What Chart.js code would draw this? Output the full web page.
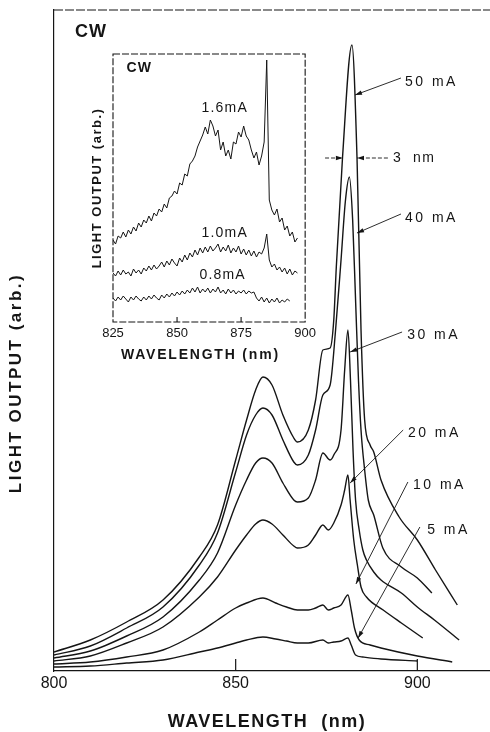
<!DOCTYPE html>
<html>
<head>
<meta charset="utf-8">
<script src="https://cdn.jsdelivr.net/npm/chart.js@4"></script>
<style>
  html, body { margin: 0; padding: 0; background: #fff; }
  #wrap { position: relative; width: 490px; height: 732px; overflow: hidden; }
  #mainChart { position: absolute; left: 0; top: 0; }
  #insetChart { position: absolute; left: 60px; top: 40px; }
</style>
</head>
<body>
<div id="wrap">
  <canvas id="mainChart" width="490" height="732"></canvas>
  <canvas id="insetChart" width="260" height="330"></canvas>
</div>
<script>
// main spectra, CW, wavelength (nm) vs light output (arb.)
const wl50 = [800, 810, 820, 830, 840, 845, 850, 853, 855.5, 857.5, 860, 863, 866, 867, 870, 872, 874, 876, 877, 877.7, 879.4, 882, 883.4, 884.5, 885.5, 887, 888, 890, 895, 900, 905, 911];
const out50 = [19, 31, 49, 71, 114, 146, 211, 251, 281, 294, 286, 256, 233, 229, 241, 271, 321, 323, 351, 404, 513, 626, 513, 341, 251, 226, 219, 191, 154, 131, 101, 66];

const wl40 = [800, 810, 820, 830, 840, 845, 850, 853, 855.5, 857.5, 860, 863, 866, 867, 870, 872, 874, 876, 877.5, 879, 880.2, 881.3, 882.2, 883, 883.8, 884.5, 885.5, 886.5, 888, 890.5, 895.6, 900, 904];
const out40 = [16, 25, 43, 64, 106, 138, 199, 236, 256, 263, 256, 231, 209, 206, 216, 241, 276, 286, 341, 411, 470, 494, 451, 371, 291, 241, 201, 171, 156, 123, 104, 93, 78];

const wl30 = [800, 810, 820, 830, 840, 845, 850, 853, 855.5, 857.5, 860, 863, 866, 867, 870, 872, 874, 876, 877, 879, 880, 880.9, 881.6, 882.3, 883, 884, 885, 886, 888, 890, 895.6, 900, 904.7, 911.5];
const out30 = [13, 20, 35, 54, 91, 118, 166, 191, 208, 213, 208, 188, 171, 169, 173, 191, 218, 211, 216, 241, 301, 341, 291, 221, 171, 141, 121, 111, 99, 91, 78, 64, 51, 31];

const wl20 = [800, 810, 820, 830, 840, 845, 850, 853, 855.5, 857.5, 860, 863, 866, 867, 870, 872, 874, 875.5, 877, 879, 880, 880.9, 881.5, 882.5, 883.5, 884.5, 886, 890.6, 895.6, 901.5];
const out20 = [10, 15, 28, 44, 74, 94, 121, 136, 147, 151, 147, 136, 125, 123, 126, 136, 146, 141, 148, 166, 181, 196, 171, 131, 106, 84, 74, 61, 48, 33];

const wl10 = [800, 810, 820, 830, 840, 845, 850, 853, 857.5, 861, 864, 867, 870, 872, 874, 875.5, 877, 879, 880.9, 881.8, 882.7, 884, 887, 890, 900, 909.6];
const out10 = [7, 9, 14, 21, 39, 51, 63, 68, 73, 68, 64, 61, 61, 63, 66, 61, 63, 66, 76, 61, 43, 31, 26, 23, 15, 9];

const wl05 = [800, 810, 820, 830, 840, 845, 850, 853, 857.5, 861, 864, 867, 870, 874, 875.5, 877, 879, 880.9, 881.8, 883, 885, 890, 900];
const out05 = [4, 5, 8, 11, 19, 23, 28, 31, 34, 32, 30, 28, 28, 31, 28, 29, 30, 33, 26, 16, 14, 12, 10];

const xTicks = [800, 850, 900];

// inset, low currents
const wlInset = [825, 826, 827, 828, 829, 830, 831, 832, 833, 834,
  835, 836, 837, 838, 839, 840, 841, 842, 843, 844,
  845, 846, 847, 848, 849, 850, 851, 852, 853, 854,
  855, 856, 857, 858, 859, 860, 861, 862, 863, 864,
  865, 866, 867, 868, 869, 870, 871, 872, 873, 874,
  875, 876, 877, 878, 879, 880, 881, 882, 883, 884,
  885, 886, 887, 888, 889, 890, 891, 892, 893, 894,
  895, 896, 897];
const out16 = [82, 78, 86, 84, 90, 85, 92, 88, 95, 91,
  99, 95, 102, 99, 106, 101, 109, 106, 113, 110,
  118, 114, 124, 126, 131, 128, 139, 137, 148, 146,
  158, 161, 166, 175, 181, 187, 195, 188, 202, 196,
  186, 192, 172, 180, 166, 172, 163, 180, 178, 190,
  185, 196, 186, 182, 172, 164, 170, 157, 166, 180,
  262, 122, 112, 107, 113, 100, 104, 92, 96, 86,
  90, 80, 84];
const out10i = [49, 46, 51, 47, 52, 48, 50, 46, 53, 49,
  52, 48, 54, 51, 56, 52, 57, 53, 56, 60,
  55, 61, 57, 63, 59, 56, 64, 60, 67, 62,
  69, 65, 72, 67, 74, 69, 75, 70, 76, 71,
  74, 78, 70, 75, 71, 77, 69, 74, 70, 76,
  68, 73, 67, 72, 66, 71, 65, 70, 68, 74,
  88, 62, 55, 58, 52, 55, 50, 54, 48, 53,
  47, 51, 49];
const out08 = [24, 21, 25, 22, 26, 23, 20, 25, 22, 26,
  23, 21, 25, 22, 26, 23, 27, 24, 22, 27,
  24, 28, 25, 29, 26, 30, 27, 31, 28, 32,
  29, 34, 30, 35, 29, 33, 30, 34, 29, 33,
  30, 35, 29, 32, 28, 33, 29, 32, 28, 31,
  29, 32, 28, 31, 29, 30, 24, 21, 25, 20,
  24, 19, 23, 20, 24, 19, 22, 20, 23, 21];
const insetTicks = [825, 850, 875, 900];

const INK = '#151515';
const FONT = "'Liberation Sans', Arial, Helvetica, sans-serif";

function toPoints(wl, out) {
  return wl.map((x, i) => ({ x: x, y: out[i] })).filter(p => p.y !== undefined);
}

function text(ctx, str, x, y, size, bold, align, spacing, rotate) {
  ctx.save();
  ctx.fillStyle = INK;
  ctx.font = (bold ? 'bold ' : '') + size + 'px ' + FONT;
  ctx.letterSpacing = (spacing || 0) + 'px';
  ctx.textAlign = align || 'left';
  ctx.textBaseline = 'middle';
  ctx.translate(x, y);
  if (rotate) ctx.rotate(-Math.PI / 2);
  ctx.fillText(str, 0, 0);
  ctx.restore();
}

function arrow(ctx, x1, y1, x2, y2, dash) {
  ctx.save();
  ctx.strokeStyle = INK;
  ctx.fillStyle = INK;
  ctx.lineWidth = 0.9;
  if (dash) ctx.setLineDash(dash);
  ctx.beginPath();
  ctx.moveTo(x1, y1);
  ctx.lineTo(x2, y2);
  ctx.stroke();
  const a = Math.atan2(y2 - y1, x2 - x1);
  ctx.setLineDash([]);
  ctx.beginPath();
  ctx.moveTo(x2, y2);
  ctx.lineTo(x2 - 7 * Math.cos(a) + 2.2 * Math.sin(a), y2 - 7 * Math.sin(a) - 2.2 * Math.cos(a));
  ctx.lineTo(x2 - 7 * Math.cos(a) - 2.2 * Math.sin(a), y2 - 7 * Math.sin(a) + 2.2 * Math.cos(a));
  ctx.closePath();
  ctx.fill();
  ctx.restore();
}

// current labels with leader arrows, in data coordinates
const callouts = [
  { label: '50 mA', at: [896.6, 589], from: [895.5, 593], to: [882.85, 576] },
  { label: '40 mA', at: [896.6, 453], from: [895.5, 457], to: [883.4, 438] },
  { label: '30 mA', at: [897.2, 336], from: [895.8, 339], to: [881.5, 319] },
  { label: '20 mA', at: [897.4, 238], from: [896.1, 241], to: [881.5, 188] },
  { label: '10 mA', at: [898.8, 186], from: [897.4, 189], to: [883.1, 87] },
  { label: '5 mA', at: [902.7, 141], from: [900.7, 144], to: [883.7, 33] }
];

const mainDecor = {
  id: 'mainDecor',
  afterDraw(chart) {
    const { ctx, chartArea: area, scales: { x, y } } = chart;
    ctx.save();
    ctx.strokeStyle = INK;
    ctx.lineWidth = 1.2;
    ctx.setLineDash([9, 2]);
    ctx.beginPath();
    ctx.moveTo(area.left, area.top);
    ctx.lineTo(area.right, area.top);
    ctx.stroke();
    ctx.setLineDash([]);
    // inward ticks
    [850, 900].forEach(v => {
      const px = x.getPixelForValue(v);
      ctx.beginPath();
      ctx.moveTo(px, area.bottom);
      ctx.lineTo(px, area.bottom - 12);
      ctx.stroke();
    });
    ctx.restore();

    text(ctx, 'CW', x.getPixelForValue(805.8), y.getPixelForValue(639), 18, true, 'left', 1);
    text(ctx, 'WAVELENGTH  (nm)', 267, area.bottom + 51, 18, true, 'center', 1.5);
    text(ctx, 'LIGHT OUTPUT (arb.)', 16, 383, 17, true, 'center', 2.5, true);

    callouts.forEach(c => {
      arrow(ctx, x.getPixelForValue(c.from[0]), y.getPixelForValue(c.from[1]),
        x.getPixelForValue(c.to[0]), y.getPixelForValue(c.to[1]));
      text(ctx, c.label, x.getPixelForValue(c.at[0]), y.getPixelForValue(c.at[1]), 14, false, 'left', 2.5);
    });

    // 3 nm width marker
    const my = y.getPixelForValue(513);
    arrow(ctx, x.getPixelForValue(874.6), my, x.getPixelForValue(879.5), my, [4, 2]);
    arrow(ctx, x.getPixelForValue(891.9), my, x.getPixelForValue(883.4), my, [4, 2]);
    text(ctx, '3  nm', x.getPixelForValue(893.3), my, 14, false, 'left', 1.5);
  }
};

const mainSeries = [
  { label: '50 mA', wl: wl50, out: out50 },
  { label: '40 mA', wl: wl40, out: out40 },
  { label: '30 mA', wl: wl30, out: out30 },
  { label: '20 mA', wl: wl20, out: out20 },
  { label: '10 mA', wl: wl10, out: out10 },
  { label: '5 mA', wl: wl05, out: out05 }
];

new Chart(document.getElementById('mainChart'), {
  type: 'line',
  data: {
    datasets: mainSeries.map(s => ({
      label: s.label,
      data: toPoints(s.wl, s.out),
      borderColor: INK,
      borderWidth: 1.4,
      pointRadius: 0,
      cubicInterpolationMode: 'monotone',
      fill: false
    }))
  },
  options: {
    responsive: false,
    animation: false,
    events: [],
    layout: { padding: { top: 10, right: 0, left: 0, bottom: 0 } },
    plugins: { legend: { display: false }, tooltip: { enabled: false } },
    scales: {
      x: {
        type: 'linear', min: 800, max: 920,
        afterBuildTicks: s => { s.ticks = xTicks.map(v => ({ value: v })); },
        afterFit: s => { s.height = 61; },
        grid: { drawOnChartArea: false, drawTicks: false },
        border: { color: INK, width: 1.2, dash: [9, 2] },
        ticks: { color: INK, font: { family: FONT, size: 16 }, padding: 3, maxRotation: 0 }
      },
      y: {
        type: 'linear', min: 0, max: 661,
        afterFit: s => { s.width = 54; },
        grid: { drawOnChartArea: false, drawTicks: false },
        border: { color: INK, width: 1.2, dash: [9, 2] },
        ticks: { display: false }
      }
    }
  },
  plugins: [mainDecor]
});

// inset labels in inset data coordinates
const insetLabels = [
  { label: '1.6mA', at: [868.6, 214] },
  { label: '1.0mA', at: [868.6, 89] },
  { label: '0.8mA', at: [867.8, 47] }
];

const insetDecor = {
  id: 'insetDecor',
  afterDraw(chart) {
    const { ctx, chartArea: area, scales: { x, y } } = chart;
    ctx.save();
    ctx.strokeStyle = INK;
    ctx.lineWidth = 1.1;
    ctx.setLineDash([7, 2]);
    ctx.strokeRect(area.left, area.top, area.right - area.left, area.bottom - area.top);
    ctx.setLineDash([]);
    [850, 875].forEach(v => {
      const px = x.getPixelForValue(v);
      ctx.beginPath();
      ctx.moveTo(px, area.bottom);
      ctx.lineTo(px, area.bottom - 5);
      ctx.stroke();
    });
    ctx.restore();

    text(ctx, 'CW', x.getPixelForValue(830.3), y.getPixelForValue(254), 14, true, 'left', 1);
    insetLabels.forEach(l => {
      text(ctx, l.label, x.getPixelForValue(l.at[0]), y.getPixelForValue(l.at[1]), 14, false, 'center', 1.2);
    });
    text(ctx, 'WAVELENGTH (nm)', x.getPixelForValue(859.1), area.bottom + 33, 14, true, 'center', 1.8);
    text(ctx, 'LIGHT OUTPUT (arb.)', area.left - 16, (area.top + area.bottom) / 2, 13, true, 'center', 1.5, true);
  }
};

const insetSeries = [
  { label: '1.6mA', out: out16 },
  { label: '1.0mA', out: out10i },
  { label: '0.8mA', out: out08 }
];

new Chart(document.getElementById('insetChart'), {
  type: 'line',
  data: {
    datasets: insetSeries.map(s => ({
      label: s.label,
      data: toPoints(wlInset.slice(0, s.out.length), s.out),
      borderColor: INK,
      borderWidth: 1,
      pointRadius: 0,
      tension: 0,
      fill: false
    }))
  },
  options: {
    responsive: false,
    animation: false,
    events: [],
    layout: { padding: { top: 14, right: 9, left: 0, bottom: 0 } },
    plugins: { legend: { display: false }, tooltip: { enabled: false } },
    scales: {
      x: {
        type: 'linear', min: 825, max: 900,
        afterBuildTicks: s => { s.ticks = insetTicks.map(v => ({ value: v })); },
        afterFit: s => { s.height = 48; },
        grid: { drawOnChartArea: false, drawTicks: false },
        border: { display: false },
        ticks: { color: INK, font: { family: FONT, size: 13 }, padding: 4, maxRotation: 0 }
      },
      y: {
        type: 'linear', min: 0, max: 268,
        afterFit: s => { s.width = 53; },
        grid: { drawOnChartArea: false, drawTicks: false },
        border: { display: false },
        ticks: { display: false }
      }
    }
  },
  plugins: [insetDecor]
});
</script>
</body>
</html>
